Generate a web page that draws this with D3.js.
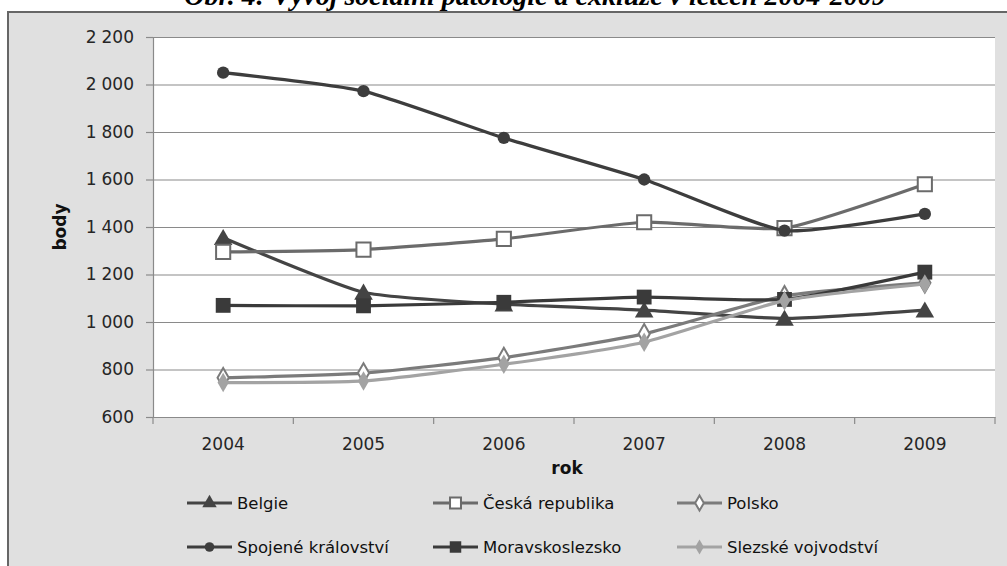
<!DOCTYPE html>
<html>
<head>
<meta charset="utf-8">
<script src="https://cdn.jsdelivr.net/npm/d3@7"></script>
<style>
  body { margin: 0; background: #fff; }
  svg { display: block; }
  .tick text { font-family: "DejaVu Sans", sans-serif; fill: #262626; }
</style>
</head>
<body>
<svg id="chart" width="1007" height="566"></svg>
<script>
'use strict';

// data
var years = ['2004', '2005', '2006', '2007', '2008', '2009'];
var yTicks = [600, 800, 1000, 1200, 1400, 1600, 1800, 2000, 2200];

var belgie        = [1355, 1125, 1075, 1050, 1015, 1050];
var ceskaRep      = [1295, 1305, 1350, 1420, 1395, 1580];
var polsko        = [ 765,  785,  850,  950, 1110, 1165];
var spojeneKral   = [2050, 1972, 1775, 1600, 1385, 1455];
var moravskoslez  = [1070, 1068, 1083, 1105, 1095, 1210];
var slezskeVoj    = [ 745,  752,  822,  915, 1090, 1160];

var seriesNames = ['Belgie', 'Česká republika', 'Polsko',
                   'Spojené království', 'Moravskoslezsko', 'Slezské vojvodství'];
var seriesValues = [belgie, ceskaRep, polsko, spojeneKral, moravskoslez, slezskeVoj];

// look of each series
var looks = [
    {color: '#444444', marker: 'triangle', fill: '#444444', size: 150},
    {color: '#6b6b6b', marker: 'square',   fill: '#ffffff', size: 200},
    {color: '#7b7b7b', marker: 'diamond',  fill: '#ffffff', size: 110},
    {color: '#3d3d3d', marker: 'circle',   fill: '#3d3d3d', size: 120},
    {color: '#3a3a3a', marker: 'square',   fill: '#3a3a3a', size: 220},
    {color: '#a3a3a3', marker: 'diamond',  fill: '#a3a3a3', size: 110}
];

var svg = d3.select('#chart');

var plot = {left: 153, right: 995, top: 37, bottom: 417};

// background frame
svg.append('rect')
    .attr('x', 0).attr('y', 0).attr('width', 1007).attr('height', 566)
    .attr('fill', '#ffffff');
svg.append('rect')
    .attr('x', 8).attr('y', 12).attr('width', 1010).attr('height', 570)
    .attr('fill', '#e0e0e0')
    .attr('stroke', '#666666')
    .attr('stroke-width', 2);

// title, cut at top as in the scan
svg.append('text')
    .attr('x', 535).attr('y', 5)
    .attr('text-anchor', 'middle')
    .attr('font-family', '"Liberation Serif", "DejaVu Serif", serif')
    .attr('font-weight', 'bold')
    .attr('font-style', 'italic')
    .attr('font-size', 28)
    .attr('fill', '#000')
    .text('Obr. 4: Vývoj sociální patologie a exkluze v letech 2004-2009');

svg.append('rect')
    .attr('x', plot.left).attr('y', plot.top)
    .attr('width', plot.right - plot.left).attr('height', plot.bottom - plot.top)
    .attr('fill', '#ffffff');

var x = d3.scaleBand().domain(years).range([plot.left, plot.right]);
var y = d3.scaleLinear().domain([600, 2200]).range([plot.bottom, plot.top]);

var fmt = function(d) { return d3.format(',')(d).replace(',', '\u2009\u200a'); };

// gridlines
svg.append('g')
    .attr('transform', 'translate(' + plot.left + ',0)')
    .call(d3.axisLeft(y).tickValues(yTicks).tickSize(-(plot.right - plot.left)).tickFormat(''))
    .call(function(g) {
        g.select('.domain').remove();
        g.selectAll('.tick line').attr('stroke', '#8a8a8a').attr('stroke-width', 1.2);
    });

// y axis
svg.append('g')
    .attr('transform', 'translate(' + plot.left + ',0)')
    .call(d3.axisLeft(y).tickValues(yTicks).tickSize(7).tickPadding(12).tickFormat(fmt))
    .call(function(g) {
        g.select('.domain').attr('stroke', '#8a8a8a').attr('stroke-width', 1.2);
        g.selectAll('.tick line').attr('stroke', '#8a8a8a').attr('stroke-width', 1.2);
        g.selectAll('.tick text').attr('font-size', 17);
    });

// x axis: labels centred in each band, ticks on band edges
svg.append('g')
    .attr('transform', 'translate(0,' + plot.bottom + ')')
    .call(d3.axisBottom(x).tickSize(0).tickPadding(21))
    .call(function(g) {
        g.select('.domain').attr('stroke', '#8a8a8a').attr('stroke-width', 1.2);
        g.selectAll('.tick text').attr('font-size', 17);
    });

var edges = years.map(function(d) { return x(d); }).concat([x(years[years.length - 1]) + x.step()]);
svg.append('g').selectAll('line')
    .data(edges)
    .enter().append('line')
    .attr('x1', function(d) { return d; })
    .attr('x2', function(d) { return d; })
    .attr('y1', plot.bottom)
    .attr('y2', plot.bottom + 7)
    .attr('stroke', '#8a8a8a')
    .attr('stroke-width', 1.2);

// axis titles
svg.append('text')
    .attr('x', (plot.left + plot.right) / 2 - 7).attr('y', 474)
    .attr('text-anchor', 'middle')
    .attr('font-family', '"DejaVu Sans", sans-serif')
    .attr('font-weight', 'bold')
    .attr('font-size', 17)
    .attr('fill', '#111')
    .text('rok');

svg.append('text')
    .attr('transform', 'translate(66,227) rotate(-90)')
    .attr('text-anchor', 'middle')
    .attr('font-family', '"DejaVu Sans", sans-serif')
    .attr('font-weight', 'bold')
    .attr('font-size', 17)
    .attr('fill', '#111')
    .text('body');

var symbolType = {
    triangle: d3.symbolTriangle,
    square: d3.symbolSquare,
    diamond: d3.symbolDiamond,
    circle: d3.symbolCircle
};

var line = d3.line()
    .x(function(d, i) { return x(years[i]) + x.bandwidth() / 2; })
    .y(function(d) { return y(d); })
    .curve(d3.curveCardinal.tension(0.45));

function marker(sel, look) {
    sel.attr('d', d3.symbol().type(symbolType[look.marker]).size(look.size))
        .attr('fill', look.fill)
        .attr('stroke', look.color)
        .attr('stroke-width', look.fill === '#ffffff' ? 2 : 0);
}

seriesValues.forEach(function(vals, s) {
    var look = looks[s];
    var g = svg.append('g');
    g.append('path')
        .datum(vals)
        .attr('d', line)
        .attr('fill', 'none')
        .attr('stroke', look.color)
        .attr('stroke-width', 3.2)
        .attr('stroke-linejoin', 'round');
    g.selectAll('path.pt')
        .data(vals)
        .enter().append('path')
        .attr('class', 'pt')
        .attr('transform', function(d, i) {
            var dy = look.marker === 'triangle' ? 2 : 0;
            return 'translate(' + (x(years[i]) + x.bandwidth() / 2) + ',' + (y(d) + dy) + ')';
        })
        .call(marker, look);
});

// legend
var legendCols = [187, 433, 677];
var legendRows = [503, 547];

seriesNames.forEach(function(name, s) {
    var look = looks[s];
    var lx = legendCols[s % 3];
    var ly = legendRows[Math.floor(s / 3)];
    var g = svg.append('g').attr('transform', 'translate(' + lx + ',' + ly + ')');
    g.append('line')
        .attr('x1', 0).attr('x2', 45)
        .attr('stroke', look.color)
        .attr('stroke-width', 3.2);
    g.append('path')
        .attr('transform', 'translate(22.5,0)')
        .call(marker, {color: look.color, marker: look.marker, fill: look.fill, size: look.size * 0.6});
    g.append('text')
        .attr('x', 50).attr('y', 0)
        .attr('dy', '0.35em')
        .attr('font-family', '"DejaVu Sans", sans-serif')
        .attr('font-size', 16.5)
        .attr('fill', '#111')
        .text(name);
});
</script>
</body>
</html>
